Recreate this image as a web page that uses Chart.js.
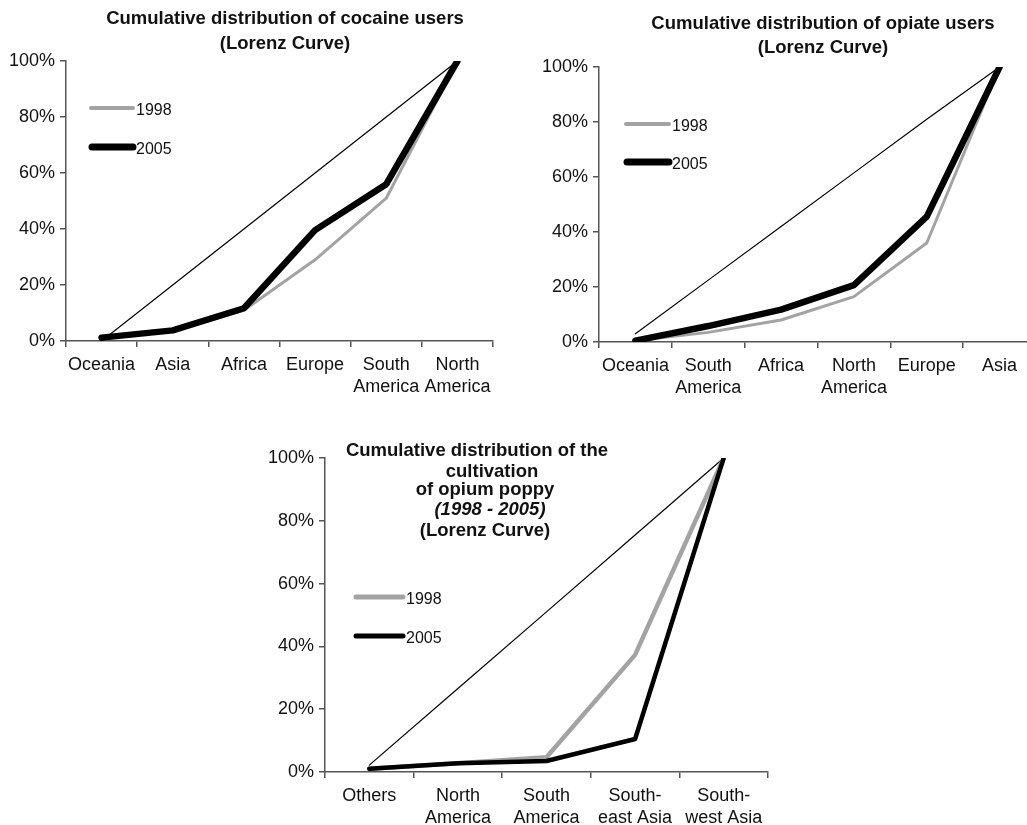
<!DOCTYPE html>
<html>
<head>
<meta charset="utf-8">
<script src="https://cdn.jsdelivr.net/npm/chart.js@4.4.1/dist/chart.umd.min.js"></script>
<style>
	html, body { margin: 0; padding: 0; background: #fff; overflow: hidden; }
	#page { position: relative; width: 1027px; height: 825px; overflow: hidden; }
	canvas { position: absolute; }
</style>
</head>
<body>
<div id="page">
	<canvas id="cocaine" width="500" height="400" style="left:0;top:0"></canvas>
	<canvas id="opiate" width="516" height="400" style="left:520px;top:0"></canvas>
	<canvas id="poppy" width="540" height="425" style="left:240px;top:400px"></canvas>
</div>
<script>
// cocaine users
const cocaineRegions = ['Oceania', 'Asia', 'Africa', 'Europe', ['South', 'America'], ['North', 'America']]
const cocaineEquality = [0, 20, 40, 60, 80, 100]
const cocaine1998 = [1.2, 3.5, 11, 29, 51, 100]
const cocaine2005 = [1.2, 3.8, 11.7, 39.6, 56, 100]

// opiate users
const opiateRegions = ['Oceania', ['South', 'America'], 'Africa', ['North', 'America'], 'Europe', 'Asia']
const opiateEquality = [3, 22.5, 42, 61.5, 81, 100]
const opiate1998 = [0.5, 3.5, 8, 16.5, 36, 100]
const opiate2005 = [0.5, 5.8, 11.8, 20.7, 45.6, 100]

// opium poppy cultivation
const poppyRegions = ['Others', ['North', 'America'], ['South', 'America'], ['South-', 'east Asia'], ['South-', 'west Asia']]
const poppyEquality = [2.2, 26.6, 51, 75.5, 100]
const poppy1998 = [1, 2.8, 4.7, 37.3, 100]
const poppy2005 = [1, 2.8, 3.5, 10.5, 100]

const yTicks = [0, 20, 40, 60, 80, 100]

const FONT = "'Liberation Sans', Arial, Helvetica, sans-serif"
const AXIS = '#555'
const GREY = '#a3a3a3'

// titles and the little legend both sit inside the plot, so draw them by hand
const notes = {
	id: 'notes',
	afterDatasetsDraw(chart, args, opts) {
		const ctx = chart.ctx
		ctx.save()
		ctx.fillStyle = '#111'
		ctx.textBaseline = 'middle'
		ctx.textAlign = 'center'
		for (const t of opts.title || []) {
			ctx.font = (t.italic ? 'italic ' : '') + 'bold 18.5px ' + FONT
			ctx.fillText(t.text, t.x, t.y)
		}
		for (const k of opts.keys || []) {
			const ds = chart.data.datasets.find((d) => d.label === k.label)
			ctx.strokeStyle = ds.borderColor
			ctx.lineWidth = k.width
			ctx.lineCap = 'round'
			ctx.beginPath()
			ctx.moveTo(k.x0, k.y)
			ctx.lineTo(k.x1, k.y)
			ctx.stroke()
			ctx.font = '16px ' + FONT
			ctx.textAlign = 'left'
			ctx.fillText(ds.label, k.x1 + 3, k.y + 3)
		}
		ctx.restore()
	},
}

function scales(yWidth, xHeight) {
	return {
		x: {
			offset: true,
			grid: { offset: true, drawOnChartArea: false, color: AXIS, lineWidth: 1.5, tickLength: 6 },
			border: { color: AXIS, width: 1.5 },
			ticks: { color: '#111', font: { family: FONT, size: 18, lineHeight: 1.22 }, padding: 7, maxRotation: 0, autoSkip: false },
			afterFit: (s) => {
				s.height = xHeight
			},
		},
		y: {
			min: 0,
			max: 100,
			afterBuildTicks: (s) => {
				s.ticks = yTicks.map((v) => ({ value: v }))
			},
			grid: { drawOnChartArea: false, color: AXIS, lineWidth: 1.5, tickLength: 6 },
			border: { color: AXIS, width: 1.5 },
			ticks: { color: '#111', font: { family: FONT, size: 18 }, padding: 5, callback: (v) => v + '%' },
			afterFit: (s) => {
				s.width = yWidth
			},
		},
	}
}

// first dataset is painted last, so 2005 goes first to sit on top
function lines(equality, first, second, w1998, w2005) {
	return [
		{ label: '2005', data: second, borderColor: '#000', borderWidth: w2005 },
		{ label: '1998', data: first, borderColor: GREY, borderWidth: w1998 },
		{ label: 'equality', data: equality, borderColor: '#000', borderWidth: 1.2 },
	]
}

function lorenz(id, labels, datasets, padding, yWidth, xHeight, note) {
	return new Chart(document.getElementById(id).getContext('2d'), {
		type: 'line',
		data: { labels: labels, datasets: datasets },
		options: {
			responsive: false,
			animation: false,
			layout: { padding: padding },
			elements: {
				point: { radius: 0, hoverRadius: 0 },
				line: { tension: 0, borderJoinStyle: 'round', borderCapStyle: 'round', fill: false },
			},
			scales: scales(yWidth, xHeight),
			plugins: {
				legend: { display: false },
				tooltip: { enabled: false },
				notes: note,
			},
		},
		plugins: [notes],
	})
}

lorenz('cocaine', cocaineRegions, lines(cocaineEquality, cocaine1998, cocaine2005, 3, 6.5), { top: 61, right: 7, left: 0, bottom: 0 }, 66, 59, {
	title: [
		{ text: 'Cumulative distribution of cocaine users', x: 285, y: 19 },
		{ text: '(Lorenz Curve)', x: 285, y: 44 },
	],
	keys: [
		{ label: '1998', x0: 91, x1: 133, y: 108, width: 4 },
		{ label: '2005', x0: 92, x1: 133, y: 147, width: 7 },
	],
})

lorenz('opiate', opiateRegions, lines(opiateEquality, opiate1998, opiate2005, 3, 6.5), { top: 67, right: 0, left: 0, bottom: 0 }, 79, 58, {
	title: [
		{ text: 'Cumulative distribution of opiate users', x: 303, y: 24 },
		{ text: '(Lorenz Curve)', x: 303, y: 48 },
	],
	keys: [
		{ label: '1998', x0: 106, x1: 149, y: 124, width: 4 },
		{ label: '2005', x0: 107, x1: 149, y: 162, width: 7 },
	],
})

lorenz('poppy', poppyRegions, lines(poppyEquality, poppy1998, poppy2005, 4.5, 4.5), { top: 58, right: 12, left: 0, bottom: 0 }, 85, 53, {
	title: [
		{ text: 'Cumulative distribution of the', x: 237, y: 51 },
		{ text: 'cultivation', x: 252, y: 72 },
		{ text: 'of opium poppy', x: 245, y: 90 },
		{ text: '(1998 - 2005)', x: 250, y: 110, italic: true },
		{ text: '(Lorenz Curve)', x: 245, y: 131 },
	],
	keys: [
		{ label: '1998', x0: 116, x1: 163, y: 197, width: 5 },
		{ label: '2005', x0: 116, x1: 163, y: 236, width: 5 },
	],
})
</script>
</body>
</html>
